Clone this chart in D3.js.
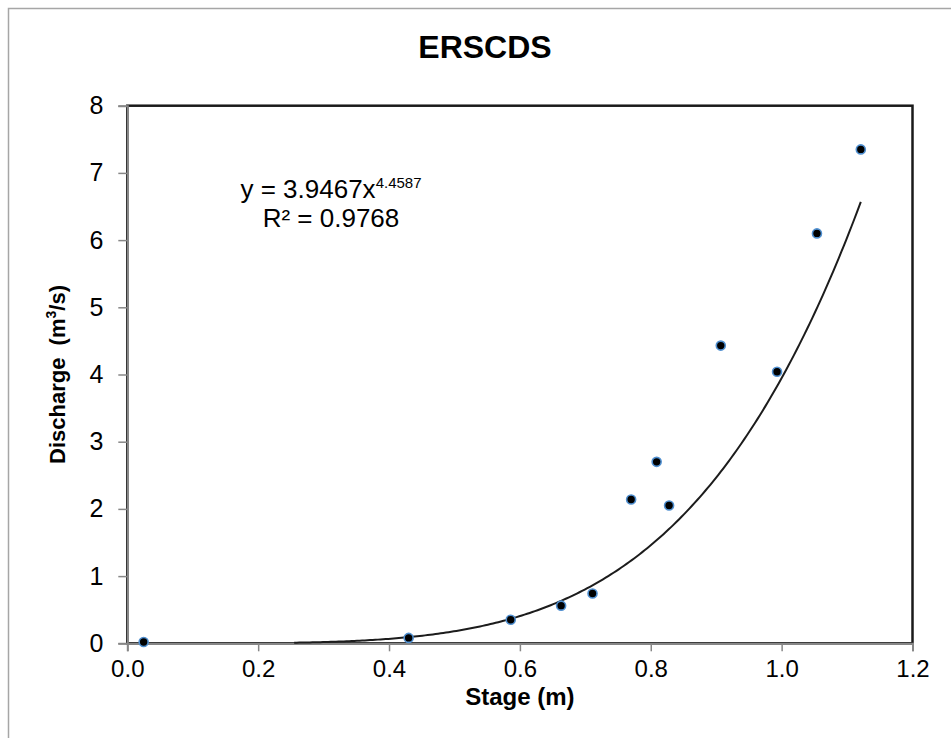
<!DOCTYPE html>
<html>
<head>
<meta charset="utf-8">
<script src="https://cdn.jsdelivr.net/npm/d3@7"></script>
<style>
  body { margin: 0; background: #fff; }
  svg { display: block; }
  text { font-family: "Liberation Sans", Arial, sans-serif; fill: #000; }
</style>
</head>
<body>
<svg id="chart" width="951" height="738"></svg>
<script>
// Observed stage–discharge pairs
const stage     = [0.025, 0.43, 0.586, 0.663, 0.711, 0.770, 0.809, 0.828, 0.907, 0.993, 1.054, 1.121];
const discharge = [0.02, 0.08, 0.35, 0.56, 0.74, 2.14, 2.70, 2.05, 4.43, 4.04, 6.10, 7.35];

// Axis ticks
const xTicks = [0, 0.2, 0.4, 0.6, 0.8, 1.0, 1.2];
const yTicks = [0, 1, 2, 3, 4, 5, 6, 7, 8];

// Power-law rating curve  Q = a * h^b
const fitCoef = 3.9467;
const fitExp = 4.4587;
const fitR2 = 0.9768;
const fitRange = [0.255, 1.121];

const svg = d3.select("#chart");
const plot = { left: 127.3, right: 912.5, top: 105.7, bottom: 643.3 };

const x = d3.scaleLinear().domain([0, 1.2]).range([plot.left, plot.right]);
const y = d3.scaleLinear().domain([0, 8]).range([plot.bottom, plot.top]);

// Chart frame
svg.append("rect")
  .attr("x", 8.5).attr("y", 8.5)
  .attr("width", 960).attr("height", 760)
  .attr("fill", "#fff").attr("stroke", "#a6a6a6").attr("stroke-width", 1.5);

// Title
svg.append("text")
  .attr("x", 485).attr("y", 58)
  .attr("text-anchor", "middle")
  .attr("font-size", 32).attr("font-weight", "bold")
  .text("ERSCDS");

// Plot area border (top and right show in black)
svg.append("rect")
  .attr("x", plot.left).attr("y", plot.top)
  .attr("width", plot.right - plot.left).attr("height", plot.bottom - plot.top)
  .attr("fill", "none").attr("stroke", "#1a1a1a").attr("stroke-width", 2.5);

// Y axis
const yAxis = svg.append("g")
  .attr("transform", `translate(${plot.left},0)`)
  .call(d3.axisLeft(y).tickValues(yTicks).tickFormat(d3.format("d")).tickSize(9).tickPadding(15));

// X axis
const xAxis = svg.append("g")
  .attr("transform", `translate(0,${plot.bottom})`)
  .call(d3.axisBottom(x).tickValues(xTicks).tickFormat(d3.format(".1f")).tickSize(8).tickPadding(9));

[yAxis, xAxis].forEach(ax => {
  ax.select(".domain").attr("stroke", "#878787").attr("stroke-width", 2);
  ax.selectAll(".tick line").attr("stroke", "#878787").attr("stroke-width", 1.5);
  ax.selectAll(".tick text")
    .attr("font-size", 25)
    .attr("font-family", "Liberation Sans, Arial, sans-serif")
    .attr("fill", "#000");
});
xAxis.selectAll(".tick text").attr("font-size", 24);

// Axis titles
svg.append("text")
  .attr("x", (plot.left + plot.right) / 2).attr("y", 705)
  .attr("text-anchor", "middle")
  .attr("font-size", 24).attr("font-weight", "bold")
  .text("Stage (m)");

const yTitle = svg.append("text")
  .attr("transform", `translate(65,${(plot.top + plot.bottom) / 2}) rotate(-90)`)
  .attr("text-anchor", "middle")
  .attr("font-size", 22).attr("font-weight", "bold");
yTitle.append("tspan").text("Discharge\u00a0 (m");
yTitle.append("tspan").attr("font-size", 14).attr("dy", -9).text("3");
yTitle.append("tspan").attr("dy", 9).text("/s)");

// Fitted rating curve
const fitX = d3.range(fitRange[0], fitRange[1], 0.004).concat([fitRange[1]]);
svg.append("path")
  .datum(fitX)
  .attr("fill", "none")
  .attr("stroke", "#1c1c1c")
  .attr("stroke-width", 2)
  .attr("d", d3.line().x(d => x(d)).y(d => y(fitCoef * Math.pow(d, fitExp))));

// Observations
svg.append("g")
  .selectAll("circle")
  .data(stage.map((s, i) => [s, discharge[i]]))
  .join("circle")
  .attr("cx", d => x(d[0]))
  .attr("cy", d => y(d[1]))
  .attr("r", 4.5)
  .attr("fill", "#000")
  .attr("stroke", "#4f8fd0")
  .attr("stroke-width", 1.6);

// Equation label
const eq = svg.append("text")
  .attr("x", 331).attr("y", 198)
  .attr("text-anchor", "middle")
  .attr("font-size", 26);
eq.append("tspan").text(`y = ${fitCoef}x`);
eq.append("tspan").attr("font-size", 15).attr("dy", -10).text(fitExp);

svg.append("text")
  .attr("x", 331).attr("y", 227)
  .attr("text-anchor", "middle")
  .attr("font-size", 26)
  .text(`R\u00b2 = ${fitR2}`);
</script>
</body>
</html>
